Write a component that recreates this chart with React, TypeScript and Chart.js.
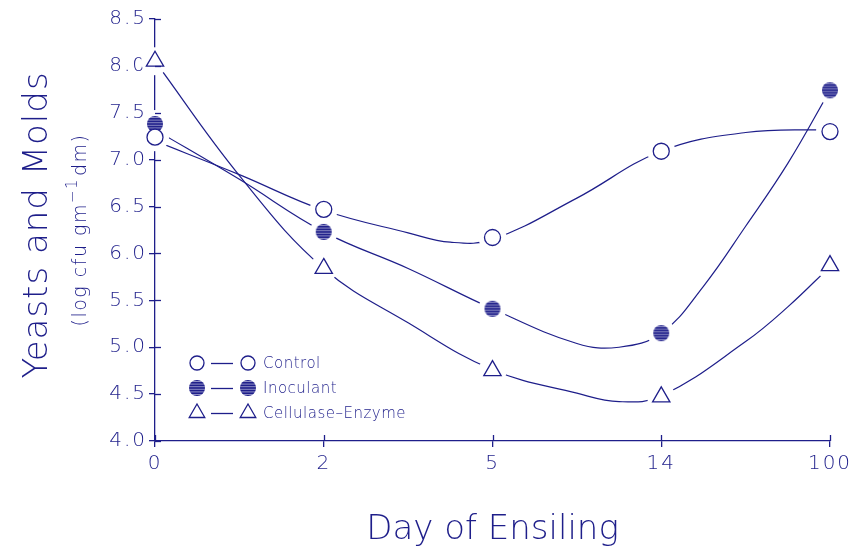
import React, { useEffect, useRef } from 'react';
import { Chart, registerables } from 'chart.js';

Chart.register(...registerables);

// ---- data ----
const dayLabels = ['0', '2', '5', '14', '100'];
const dayIndex = [0, 1, 2, 3, 4];

const controlMeans = [7.24, 6.47, 6.17, 7.09, 7.3];
const inoculantMeans = [7.38, 6.23, 5.41, 5.15, 7.74];
const cellulaseMeans = [8.05, 5.84, 4.75, 4.47, 5.87];

// fitted curves as drawn in the figure
const controlFitX = [0, 0.5, 1, 1.5, 1.75, 2, 2.5, 3, 3.5, 4];
const controlFitY = [7.2, 6.84, 6.46, 6.22, 6.12, 6.15, 6.59, 7.09, 7.29, 7.32];
const inoculantFitX = [0, 0.5, 1, 1.5, 2, 2.5, 2.75, 3, 3.25, 3.5, 3.75, 4];
const inoculantFitY = [7.32, 6.79, 6.23, 5.84, 5.41, 5.04, 5.0, 5.15, 5.65, 6.29, 6.96, 7.74];
const cellulaseFitX = [0, 0.5, 1, 1.5, 2, 2.5, 2.75, 3, 3.5, 3.75, 4];
const cellulaseFitY = [8.05, 6.83, 5.84, 5.26, 4.76, 4.51, 4.42, 4.48, 5.06, 5.43, 5.86];

const yMin = 4.0;
const yMax = 8.5;
const yStep = 0.5;

const seriesNames = ['Control', 'Inoculant', 'Cellulase\u2013Enzyme'];
const xTitle = 'Day of Ensiling';
const yTitle = 'Yeasts and Molds';
const ySubPre = '(log cfu gm';
const ySubSup = '\u22121';
const ySubPost = 'dm)';

const NAVY = '#1e1e8a';
const FONT = '"DejaVu Sans", "Noto Sans", sans-serif';

const pts = (xs: number[], ys: number[]) => xs.map((x, i) => ({ x, y: ys[i] }));

function makeStriped(): HTMLCanvasElement {
  const c = document.createElement('canvas');
  c.width = 18;
  c.height = 18;
  const g = c.getContext('2d')!;
  g.fillStyle = NAVY;
  g.beginPath();
  g.arc(9, 9, 8, 0, Math.PI * 2);
  g.fill();
  g.save();
  g.clip();
  g.strokeStyle = 'rgba(255,255,255,0.5)';
  g.lineWidth = 1;
  for (let y = 2.5; y < 18; y += 2.6) {
    g.beginPath();
    g.moveTo(0, y);
    g.lineTo(18, y);
    g.stroke();
  }
  g.restore();
  return c;
}

export default function App() {
  const ref = useRef<HTMLCanvasElement | null>(null);

  useEffect(() => {
    const canvas = ref.current;
    if (!canvas) return;
    const striped = makeStriped();

    const drawMarker = (ctx: CanvasRenderingContext2D, kind: number, x: number, y: number) => {
      ctx.save();
      ctx.strokeStyle = NAVY;
      ctx.lineWidth = 1.3;
      if (kind === 0) {
        ctx.fillStyle = '#fff';
        ctx.beginPath();
        ctx.arc(x, y, 7, 0, Math.PI * 2);
        ctx.fill();
        ctx.stroke();
      } else if (kind === 1) {
        ctx.drawImage(striped, x - 9, y - 9);
      } else {
        const r = 9;
        ctx.fillStyle = '#fff';
        ctx.beginPath();
        ctx.moveTo(x, y - r);
        ctx.lineTo(x + r * Math.sin((2 * Math.PI) / 3), y + r / 2);
        ctx.lineTo(x - r * Math.sin((2 * Math.PI) / 3), y + r / 2);
        ctx.closePath();
        ctx.fill();
        ctx.stroke();
      }
      ctx.restore();
    };

    const decor = {
      id: 'decor',
      beforeDraw(chart: any) {
        chart.ctx.letterSpacing = '2px';
      },
      afterDraw(chart: any) {
        const ctx: CanvasRenderingContext2D = chart.ctx;
        const xs = chart.scales.x;
        const ys = chart.scales.y;
        ctx.save();
        (ctx as any).letterSpacing = '0px';
        ctx.strokeStyle = NAVY;
        ctx.lineWidth = 1.3;
        // inward halves of the crossing ticks
        ys.ticks.forEach((_t: any, i: number) => {
          const py = Math.round(ys.getPixelForTick(i)) + 0.5;
          ctx.beginPath();
          ctx.moveTo(xs.left, py);
          ctx.lineTo(xs.left + 6, py);
          ctx.stroke();
        });
        xs.ticks.forEach((_t: any, i: number) => {
          const px = Math.round(xs.getPixelForTick(i)) + 0.5;
          ctx.beginPath();
          ctx.moveTo(px, ys.bottom);
          ctx.lineTo(px, ys.bottom - 6);
          ctx.stroke();
        });

        // legend
        const rows = [363, 388, 413];
        rows.forEach((ry, k) => {
          drawMarker(ctx, k, 197, ry);
          ctx.beginPath();
          ctx.moveTo(211, ry + 0.5);
          ctx.lineTo(233, ry + 0.5);
          ctx.stroke();
          drawMarker(ctx, k, 248, ry);
          ctx.fillStyle = NAVY;
          ctx.font = `300 15px ${FONT}`;
          (ctx as any).letterSpacing = '0.5px';
          ctx.textBaseline = 'middle';
          ctx.textAlign = 'left';
          ctx.fillText(seriesNames[k], 263, ry + 1);
          (ctx as any).letterSpacing = '0px';
        });

        // x title
        ctx.fillStyle = NAVY;
        ctx.font = `200 34px ${FONT}`;
        ctx.textAlign = 'center';
        ctx.textBaseline = 'alphabetic';
        ctx.fillText(xTitle, (xs.left + xs.right) / 2, 539);

        // y title
        ctx.save();
        ctx.translate(47, 225);
        ctx.rotate(-Math.PI / 2);
        ctx.font = `200 34px ${FONT}`;
        (ctx as any).letterSpacing = '1px';
        ctx.textAlign = 'center';
        ctx.fillText(yTitle, 0, 0);
        ctx.restore();

        // y subtitle with superscript
        ctx.save();
        ctx.translate(86, 230);
        ctx.rotate(-Math.PI / 2);
        (ctx as any).letterSpacing = '1.5px';
        ctx.textAlign = 'left';
        const fMain = `300 19px ${FONT}`;
        const fSup = `300 15px ${FONT}`;
        ctx.font = fMain;
        const w1 = ctx.measureText(ySubPre).width;
        const w3 = ctx.measureText(ySubPost).width;
        ctx.font = fSup;
        const w2 = ctx.measureText(ySubSup).width;
        const total = w1 + w2 + w3 + 2;
        let cx = -total / 2;
        ctx.font = fMain;
        ctx.fillText(ySubPre, cx, 0);
        cx += w1;
        ctx.font = fSup;
        ctx.fillText(ySubSup, cx, -9);
        cx += w2 + 2;
        ctx.font = fMain;
        ctx.fillText(ySubPost, cx, 0);
        ctx.restore();

        ctx.restore();
      },
    };

    const curve = (xs: number[], ysv: number[]) => ({
      type: 'line' as const,
      data: pts(xs, ysv),
      borderColor: NAVY,
      borderWidth: 1.2,
      pointRadius: 0,
      tension: 0.4,
      fill: false,
      order: 3,
    });
    const gap = (ysv: number[]) => ({
      type: 'line' as const,
      data: pts(dayIndex, ysv),
      showLine: false,
      pointRadius: 14,
      pointBackgroundColor: '#ffffff',
      pointBorderWidth: 0,
      pointBorderColor: '#ffffff',
      clip: false,
      order: 2,
    });

    const chart = new Chart(canvas, {
      type: 'line',
      data: {
        datasets: [
          curve(controlFitX, controlFitY),
          curve(inoculantFitX, inoculantFitY),
          curve(cellulaseFitX, cellulaseFitY),
          gap(controlMeans),
          gap(inoculantMeans),
          gap(cellulaseMeans),
          {
            label: seriesNames[0],
            data: pts(dayIndex, controlMeans),
            showLine: false,
            pointStyle: 'circle',
            pointRadius: 8,
            pointBackgroundColor: '#ffffff',
            pointBorderColor: NAVY,
            pointBorderWidth: 1.3,
            clip: false,
            order: 1,
          },
          {
            label: seriesNames[1],
            data: pts(dayIndex, inoculantMeans),
            showLine: false,
            pointStyle: striped as any,
            pointRadius: 8,
            clip: false,
            order: 1,
          },
          {
            label: seriesNames[2],
            data: pts(dayIndex, cellulaseMeans),
            showLine: false,
            pointStyle: 'triangle',
            pointRadius: 10,
            pointBackgroundColor: '#ffffff',
            pointBorderColor: NAVY,
            pointBorderWidth: 1.3,
            clip: false,
            order: 1,
          },
        ] as any,
      },
      options: {
        responsive: false,
        animation: false,
        layout: { padding: { top: 19, right: 27, left: 0, bottom: 0 } },
        plugins: { legend: { display: false }, tooltip: { enabled: false } },
        scales: {
          x: {
            type: 'linear',
            min: 0,
            max: 4,
            z: 1,
            afterFit: (s: any) => {
              s.height = 109;
            },
            afterBuildTicks: (s: any) => {
              s.ticks = dayIndex.map((v) => ({ value: v }));
            },
            ticks: {
              callback: (v: any) => dayLabels[Number(v)] ?? '',
              color: NAVY,
              font: { family: FONT, size: 20, weight: '200' as any },
              padding: 5,
              maxRotation: 0,
              autoSkip: false,
            },
            grid: { drawOnChartArea: false, color: NAVY, tickLength: 6, lineWidth: 1.3 },
            border: { color: NAVY, width: 1.3 },
          },
          y: {
            type: 'linear',
            min: yMin,
            max: yMax,
            z: 1,
            afterFit: (s: any) => {
              s.width = 155;
            },
            ticks: {
              stepSize: yStep,
              callback: (v: any) => Number(v).toFixed(1),
              color: NAVY,
              font: { family: FONT, size: 20, weight: '200' as any },
              padding: 2,
            },
            grid: { drawOnChartArea: false, color: NAVY, tickLength: 6, lineWidth: 1.3 },
            border: { color: NAVY, width: 1.3 },
          },
        },
      } as any,
      plugins: [decor],
    });

    return () => chart.destroy();
  }, []);

  return (
    <div style={{ position: 'absolute', left: 0, top: 0, width: 857, height: 550, background: '#fff' }}>
      <canvas ref={ref} width={857} height={550} />
    </div>
  );
}
